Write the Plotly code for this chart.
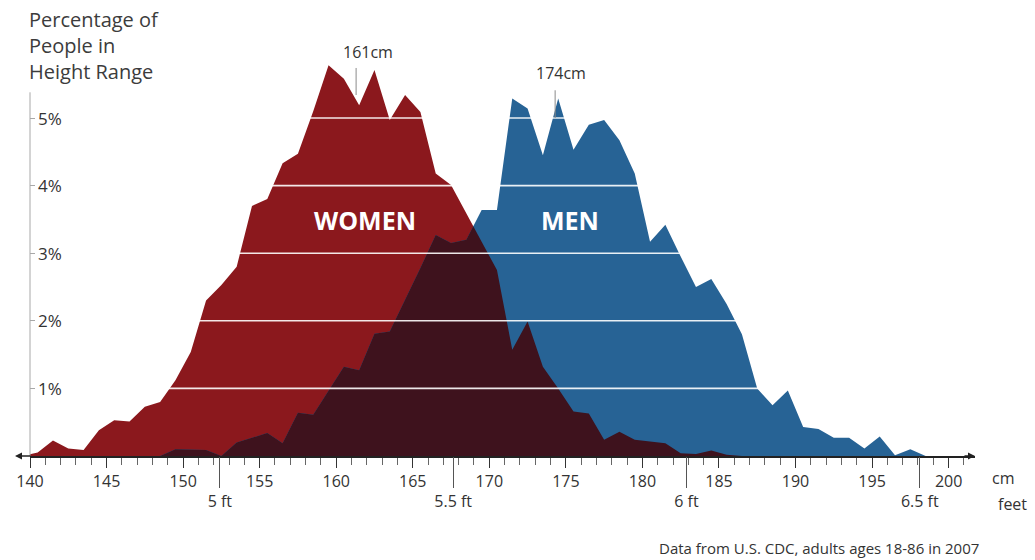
import plotly.graph_objects as go

# ---------------- data ----------------
height_cm = [139.5, 140.5, 141.5, 142.5, 143.5, 144.5, 145.5, 146.5, 147.5, 148.5,
             149.5, 150.5, 151.5, 152.5, 153.5, 154.5, 155.5, 156.5, 157.5, 158.5,
             159.5, 160.5, 161.5, 162.5, 163.5, 164.5, 165.5, 166.5, 167.5, 168.5,
             169.5, 170.5, 171.5, 172.5, 173.5, 174.5, 175.5, 176.5, 177.5, 178.5,
             179.5, 180.5, 181.5, 182.5, 183.5, 184.5, 185.5, 186.5, 187.5, 188.5,
             189.5, 190.5, 191.5, 192.5, 193.5, 194.5, 195.5, 196.5, 197.5, 198.5,
             199.5]

women_pct = [0.00, 0.05, 0.23, 0.11, 0.09, 0.38, 0.53, 0.51, 0.73, 0.80,
             1.12, 1.54, 2.30, 2.53, 2.80, 3.70, 3.80, 4.33, 4.47, 5.10,
             5.78, 5.58, 5.19, 5.71, 4.97, 5.34, 5.09, 4.18, 4.01, 3.59,
             3.17, 2.75, 1.57, 1.99, 1.32, 1.00, 0.66, 0.63, 0.24, 0.36,
             0.24, 0.21, 0.19, 0.04, 0.03, 0.08, 0.02, 0.00, 0.00, 0.00,
             0.00, 0.00, 0.00, 0.00, 0.00, 0.00, 0.00, 0.00, 0.00, 0.00,
             0.00]

men_pct = [0.00, 0.00, 0.00, 0.00, 0.00, 0.00, 0.00, 0.00, 0.00, 0.00,
           0.10, 0.10, 0.09, 0.00, 0.20, 0.27, 0.34, 0.19, 0.64, 0.61,
           0.97, 1.32, 1.27, 1.81, 1.84, 2.30, 2.78, 3.27, 3.15, 3.20,
           3.64, 3.64, 5.29, 5.14, 4.45, 5.29, 4.53, 4.90, 4.97, 4.67,
           4.18, 3.17, 3.42, 2.95, 2.50, 2.62, 2.25, 1.80, 1.00, 0.75,
           0.97, 0.43, 0.40, 0.27, 0.27, 0.11, 0.29, 0.01, 0.10, 0.00,
           0.00]

median_cm = [161, 174]
median_text = ["161cm", "174cm"]

cm_ticks = [140, 145, 150, 155, 160, 165, 170, 175, 180, 185, 190, 195, 200]
feet_cm = [152.4, 167.64, 182.88, 198.12]
feet_text = ["5 ft", "5.5 ft", "6 ft", "6.5 ft"]
pct_ticks = [1, 2, 3, 4, 5]
pct_text = ["1%", "2%", "3%", "4%", "5%"]

# ---------------- styling ----------------
RED = "#8b181d"
BLUE = "#276395"
DARK = "#3e121d"
FONT = "Open Sans"
TXT = "#333333"


def overlap(x, a, b):
    """Lower envelope of two series (with crossing points)."""
    xs, ys = [], []
    for i in range(len(x)):
        if i > 0:
            d0 = a[i - 1] - b[i - 1]
            d1 = a[i] - b[i]
            if d0 * d1 < 0:
                t = d0 / (d0 - d1)
                xs.append(x[i - 1] + t * (x[i] - x[i - 1]))
                ys.append(a[i - 1] + t * (a[i] - a[i - 1]))
        xs.append(x[i])
        ys.append(min(a[i], b[i]))
    return xs, ys


ov_x, ov_y = overlap(height_cm, women_pct, men_pct)

fig = go.Figure()
fig.add_trace(go.Scatter(x=height_cm, y=women_pct, mode="lines", line=dict(width=0, color=RED),
                         fill="tozeroy", fillcolor=RED, hoverinfo="skip", showlegend=False))
fig.add_trace(go.Scatter(x=height_cm, y=men_pct, mode="lines", line=dict(width=0, color=BLUE),
                         fill="tozeroy", fillcolor=BLUE, hoverinfo="skip", showlegend=False))
fig.add_trace(go.Scatter(x=ov_x, y=ov_y, mode="lines", line=dict(width=0, color=DARK),
                         fill="tozeroy", fillcolor=DARK, hoverinfo="skip", showlegend=False))
# invisible trace so that the feet axis is drawn
fig.add_trace(go.Scatter(x=feet_cm, y=[0] * len(feet_cm), xaxis="x2", mode="markers",
                         marker=dict(opacity=0), hoverinfo="skip", showlegend=False))

X0 = 140
X1 = 140 + 945 / 15.31
Y1 = 416 / 67.6

shapes = []
# vertical axis line
shapes.append(dict(type="line", xref="paper", yref="y", x0=0, x1=0, y0=0, y1=5.38,
                   line=dict(color="#a8a8a8", width=1)))
# white gridlines drawn over the areas
for v in pct_ticks:
    shapes.append(dict(type="line", xref="x", yref="y", x0=146, x1=201, y0=v, y1=v,
                       line=dict(color="rgba(255,255,255,0.9)", width=1.6), layer="above"))
# median markers
marker_spans = [(5.34, 5.74), (5.0, 5.41)]
for m, (a, b) in zip(median_cm, marker_spans):
    shapes.append(dict(type="line", xref="x", yref="y", x0=m + 0.3, x1=m + 0.3, y0=a, y1=b,
                       line=dict(color="#8a8a8a", width=1), layer="above"))

annotations = []
for m, t, yv, xs in zip(median_cm, median_text, [5.98, 5.67], [12, 6]):
    annotations.append(dict(x=m + 0.3, y=yv, xref="x", yref="y", text=t, showarrow=False,
                            xshift=xs, font=dict(family=FONT, size=16, color=TXT)))

# y tick labels (inside the plot, right of the axis)
for v, t in zip(pct_ticks, pct_text):
    annotations.append(dict(x=0, y=v, xref="paper", yref="y", text=t, showarrow=False,
                            xanchor="left", yanchor="middle", xshift=6,
                            font=dict(family=FONT, size=17, color=TXT)))

annotations.append(dict(x=161.9, y=3.49, xref="x", yref="y", text="<b>WOMEN</b>", showarrow=False,
                        font=dict(family=FONT, size=25, color="white")))
annotations.append(dict(x=175.3, y=3.49, xref="x", yref="y", text="<b>MEN</b>", showarrow=False,
                        font=dict(family=FONT, size=25, color="white")))

for i, line in enumerate(["Percentage of", "People in", "Height Range"]):
    py = 19 + 26.5 * i
    annotations.append(dict(x=0, y=(456 - py) / 416, xref="paper", yref="paper", text=line,
                            showarrow=False, xanchor="left", yanchor="middle", xshift=-3,
                            font=dict(family=FONT, size=20, color="#3c3c3c")))

annotations.append(dict(x=(990 - 30) / 945, y=(456 - 478) / 416, xref="paper", yref="paper", text="cm",
                        showarrow=False, xanchor="left", yanchor="middle",
                        font=dict(family=FONT, size=16, color=TXT)))
annotations.append(dict(x=(996 - 30) / 945, y=(456 - 504) / 416, xref="paper", yref="paper", text="feet",
                        showarrow=False, xanchor="left", yanchor="middle",
                        font=dict(family=FONT, size=16, color=TXT)))
annotations.append(dict(x=(981 - 30) / 945, y=(456 - 548) / 416, xref="paper", yref="paper",
                        text="Data from U.S. CDC, adults ages 18-86 in 2007",
                        showarrow=False, xanchor="right", yanchor="middle",
                        font=dict(family=FONT, size=15, color=TXT)))
# axis arrows
annotations.append(dict(x=1, y=0, xref="paper", yref="y", ax=-12, ay=0, text="", showarrow=True,
                        arrowhead=2, arrowsize=1, arrowwidth=1.4, arrowcolor="#222"))
annotations.append(dict(x=-15 / 945, y=0, xref="paper", yref="y", ax=17, ay=0, text="", showarrow=True,
                        arrowhead=2, arrowsize=1, arrowwidth=1.4, arrowcolor="#222"))

fig.update_layout(
    width=1035, height=560,
    margin=dict(l=30, r=60, t=40, b=104),
    paper_bgcolor="white", plot_bgcolor="white",
    font=dict(family=FONT, color=TXT),
    shapes=shapes, annotations=annotations,
    xaxis=dict(range=[X0, X1], tickvals=cm_ticks, ticks="outside", ticklen=10, tickwidth=1,
               tickcolor="#333", showline=True, linecolor="#222", linewidth=1.5,
               showgrid=False, zeroline=False, tickfont=dict(family=FONT, size=16, color=TXT),
               minor=dict(ticks="outside", dtick=1, tick0=140, ticklen=7, tickcolor="#666",
                          tickwidth=1, showgrid=False)),
    xaxis2=dict(range=[X0, X1], overlaying="x", anchor="y", side="bottom",
                tickvals=feet_cm, ticktext=feet_text, ticks="outside", ticklen=31, tickwidth=1,
                tickcolor="#555", showline=False, showgrid=False, zeroline=False,
                tickfont=dict(family=FONT, size=16, color=TXT)),
    yaxis=dict(range=[0, Y1], tickvals=pct_ticks, ticks="inside", ticklen=5,
               tickcolor="#a8a8a8", showticklabels=False, showline=False, showgrid=False,
               zeroline=False),
)

fig.write_html("out.html", config={"displayModeBar": False},
               post_script="document.body.style.margin='0';document.body.style.overflow='hidden';")
